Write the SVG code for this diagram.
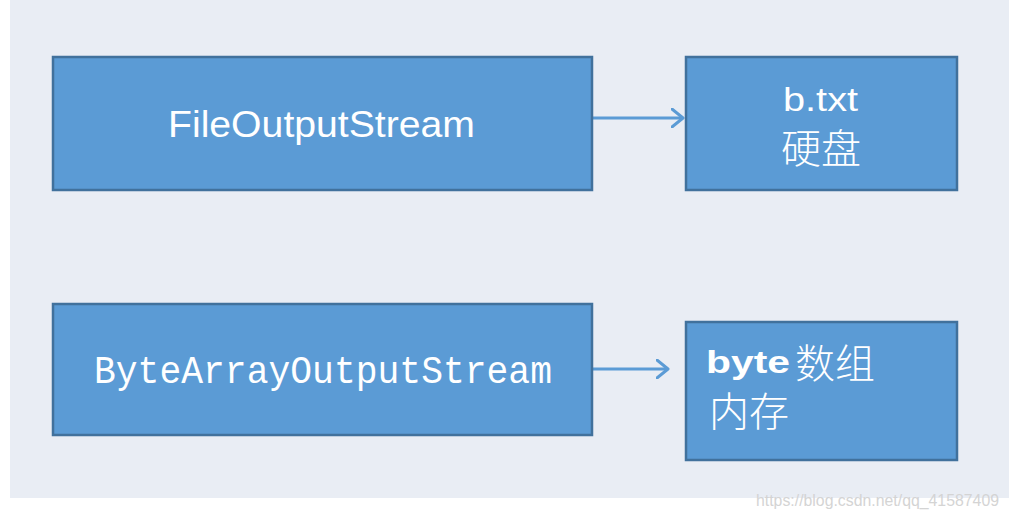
<svg xmlns="http://www.w3.org/2000/svg" width="1009" height="519" viewBox="0 0 1009 519">
  <style>
    .box { fill: #5b9bd5; stroke: #41719c; stroke-width: 2.5; }
    .txt { fill: #ffffff; }
    .lat { font-family: "Liberation Sans", Arial, sans-serif; }
    .mono { font-family: "Liberation Mono", "Courier New", monospace; }
    .cjk { font-family: "Noto Sans CJK SC", sans-serif; font-weight: 300; }
    .conn { stroke: #5b9bd5; stroke-width: 3; fill: none; }
  </style>
  <defs>
    <marker id="open" markerWidth="14" markerHeight="20" refX="12" refY="10" orient="auto" markerUnits="userSpaceOnUse">
      <polyline points="1,1 12,10 1,19" fill="none" stroke="#5b9bd5" stroke-width="3" stroke-linecap="round" stroke-linejoin="round"/>
    </marker>
  </defs>
  <rect x="0" y="0" width="1009" height="519" fill="#ffffff"/>
  <rect x="10" y="0" width="999" height="498" fill="#e9edf4"/>

  <g id="connectors">
    <line class="conn" x1="593" y1="118" x2="683" y2="118" marker-end="url(#open)"/>
    <line class="conn" x1="593" y1="369" x2="668" y2="369" marker-end="url(#open)"/>
  </g>

  <g id="node-fileoutputstream">
    <rect class="box" x="53" y="57" width="539" height="133"/>
    <text class="txt lat" x="168" y="137" font-size="36" textLength="307" lengthAdjust="spacingAndGlyphs">FileOutputStream</text>
  </g>

  <g id="node-btxt">
    <rect class="box" x="686" y="57" width="271" height="133"/>
    <text class="txt lat" x="783" y="111" font-size="34" textLength="75" lengthAdjust="spacingAndGlyphs">b.txt</text>
    <text class="txt cjk" x="821" y="163" font-size="40" text-anchor="middle">硬盘</text>
  </g>

  <g id="node-bytearrayoutputstream">
    <rect class="box" x="53" y="304" width="539" height="131"/>
    <text class="txt mono" x="94" y="383" font-size="38" textLength="458" lengthAdjust="spacingAndGlyphs">ByteArrayOutputStream</text>
  </g>

  <g id="node-bytearray">
    <rect class="box" x="686" y="322" width="271" height="138"/>
    <text class="txt lat" x="706" y="373" font-size="32" font-weight="bold" textLength="84" lengthAdjust="spacingAndGlyphs">byte</text>
    <text class="txt cjk" x="795" y="378" font-size="40">数组</text>
    <text class="txt cjk" x="709" y="426" font-size="40">内存</text>
  </g>

  <text x="756" y="506" font-family="Liberation Sans, Arial, sans-serif" font-size="16" fill="#d4d4d4" textLength="243" lengthAdjust="spacingAndGlyphs">https://blog.csdn.net/qq_41587409</text>
</svg>
